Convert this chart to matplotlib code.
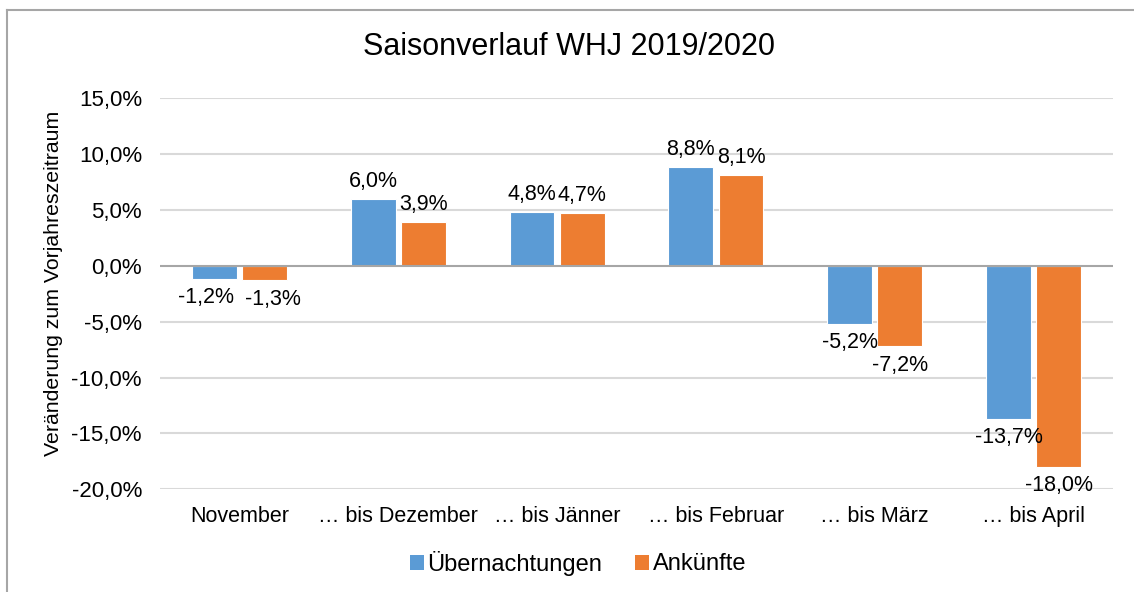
import matplotlib
matplotlib.use("Agg")
import matplotlib.pyplot as plt
import numpy as np
from matplotlib.patches import Patch
from matplotlib.lines import Line2D

categories = ["November", "… bis Dezember", "… bis Jänner", "… bis Februar", "… bis März", "… bis April"]
uebernachtungen = [-1.2, 6.0, 4.8, 8.8, -5.2, -13.7]
ankuenfte = [-1.3, 3.9, 4.7, 8.1, -7.2, -18.0]
series_names = ["Übernachtungen", "Ankünfte"]
yticks = [-20, -15, -10, -5, 0, 5, 10, 15]

blue = "#5B9BD5"
orange = "#ED7D31"

plt.rcParams['font.family'] = ['Liberation Sans', 'DejaVu Sans']

fig = plt.figure(figsize=(11.34, 5.92), dpi=100)
ax = fig.add_axes([160/1134, 1-489.3/592, (1113-160)/1134, (489.3-98)/592])

x = np.arange(len(categories))
w = 0.283
off = 0.158
ax.bar(x - off, uebernachtungen, w, color=blue, edgecolor="white", linewidth=0.8, zorder=2)
ax.bar(x + off, ankuenfte, w, color=orange, edgecolor="white", linewidth=0.8, zorder=2)

def fmt(v):
    return f"{v:.1f}".replace(".", ",") + "%"

lab_fs = 15.5
for i in range(len(categories)):
    v1, v2 = uebernachtungen[i], ankuenfte[i]
    # avoid overlapping labels of close negative values (as the original layout does)
    nudge = 6 if (v1 < 0 and v2 < 0 and abs(v1 - v2) < 1.5) else 0
    for xi, v, dx in ((x[i] - off, v1, -nudge), (x[i] + off, v2, nudge)):
        if v >= 0:
            ax.annotate(fmt(v), (xi, v), xytext=(dx, 5), textcoords="offset points",
                        ha="center", va="bottom", fontsize=lab_fs, color="black")
        else:
            ax.annotate(fmt(v), (xi, v), xytext=(dx, -6), textcoords="offset points",
                        ha="center", va="top", fontsize=lab_fs, color="black")

ax.set_ylim(-20, 15)
ax.set_xlim(-0.5, len(categories) - 0.5)
ax.set_yticks(yticks)
ax.set_yticklabels([f"{t:.1f}".replace(".", ",") + "%" for t in yticks], fontsize=16)
ax.set_xticks(x)
ax.set_xticklabels(categories, fontsize=15.5)
ax.tick_params(axis="both", length=0)
ax.tick_params(axis="y", pad=13)
ax.tick_params(axis="x", pad=12)
for s in ax.spines.values():
    s.set_visible(False)
for t in yticks:
    if t != 0:
        ax.axhline(t, color="#D9D9D9", lw=1.5, zorder=1)
ax.axhline(0, color="#A6A6A6", lw=1.5, zorder=3)

ax.set_ylabel("Veränderung zum Vorjahreszeitraum", fontsize=15.3)
ax.yaxis.set_label_coords(-(160-63)/953, 0.525)

fig.text(569/1134, 1-47/592, "Saisonverlauf WHJ 2019/2020", ha="center", va="center", fontsize=22)

handles = [Patch(facecolor=blue, edgecolor="none"), Patch(facecolor=orange, edgecolor="none")]
fig.legend(handles, series_names, loc="center", bbox_to_anchor=(578/1134, 1-563/592),
           ncol=2, frameon=False, fontsize=17, handlelength=0.6, handleheight=0.6,
           handletextpad=0.15, columnspacing=1.4)

# chart border (top and left visible)
fig.add_artist(Line2D([7/1134, 1.0], [1-10/592, 1-10/592], color="#A6A6A6", lw=1.5, transform=fig.transFigure))
fig.add_artist(Line2D([7/1134, 7/1134], [0, 1-10/592], color="#A6A6A6", lw=1.5, transform=fig.transFigure))

fig.savefig("out.png", dpi=100, facecolor="white")
